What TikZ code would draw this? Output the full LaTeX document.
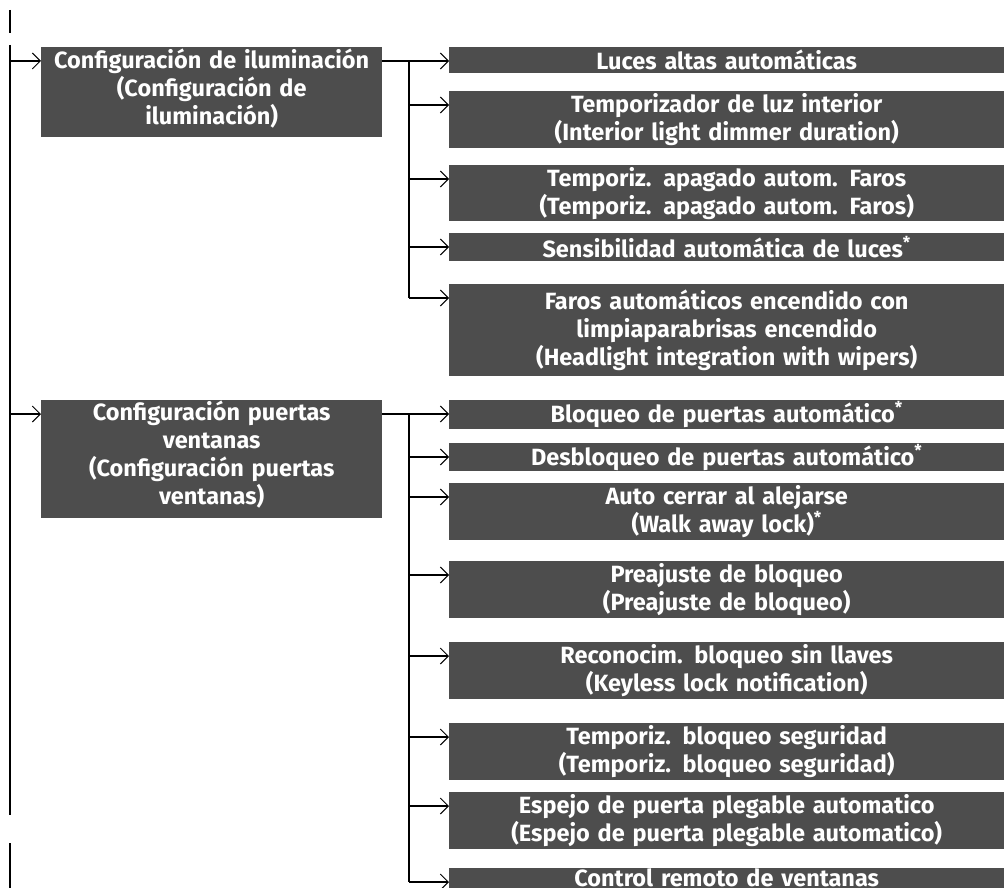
\documentclass[tikz,border=0pt]{standalone}
\usepackage{fontspec}
\setmainfont{Fira Sans}
\usetikzlibrary{arrows.meta}
\definecolor{boxgray}{RGB}{77,77,77}
\begin{document}
\begin{tikzpicture}[x=1pt,y=-1pt,
  lbox/.style={fill=boxgray,text=white,inner sep=0pt,anchor=north west,align=center,
    font=\fontsize{23.5}{28}\selectfont\bfseries},
  topbox/.style={lbox,text width=341pt,minimum width=341pt},
  subbox/.style={lbox,text width=555pt,minimum width=555pt},
  wire/.style={line width=2pt},
  arr/.style={line width=2pt,-{Straight Barb[length=8pt,width=16pt,line width=1pt]}}
]
\useasboundingbox (0,0) rectangle (1004,888);

% level 1
\node[topbox,minimum height=90pt] (cfgA) at (41,47)
  {Configuración de iluminación\\(Configuración de\\iluminación)\par\vspace{7pt}};
\node[topbox,minimum height=118pt] (cfgB) at (41,400)
  {Configuración puertas\\ventanas\\(Configuración puertas\\ventanas)\par\vspace{10pt}};

% group 1 children
\node[subbox,minimum height=26pt] (c1) at (449,47) {Luces altas automáticas};
\node[subbox,minimum height=57pt] (c2) at (449,91) {Temporizador de luz interior\\(Interior light dimmer duration)};
\node[subbox,minimum height=56pt] (c3) at (449,165) {Temporiz. apagado autom. Faros\\(Temporiz. apagado autom. Faros)};
\node[subbox,minimum height=28pt] (c4) at (449,233) {Sensibilidad automática de luces\textsuperscript{*}};
\node[subbox,minimum height=92pt] (c5) at (449,284) {Faros automáticos encendido con\\limpiaparabrisas encendido\\(Headlight integration with wipers)};

% group 2 children
\node[subbox,minimum height=29pt] (d1) at (449,400) {Bloqueo de puertas automático\textsuperscript{*}};
\node[subbox,minimum height=28pt] (d2) at (449,443) {Desbloqueo de puertas automático\textsuperscript{*}};
\node[subbox,minimum height=57pt] (d3) at (449,483) {Auto cerrar al alejarse\\(Walk away lock)\textsuperscript{*}};
\node[subbox,minimum height=57pt] (d4) at (449,561) {Preajuste de bloqueo\\(Preajuste de bloqueo)};
\node[subbox,minimum height=57pt] (d5) at (449,642) {Reconocim. bloqueo sin llaves\\(Keyless lock notification)};
\node[subbox,minimum height=57pt] (d6) at (449,723) {Temporiz. bloqueo seguridad\\(Temporiz. bloqueo seguridad)};
\node[subbox,minimum height=57pt] (d7) at (449,792) {Espejo de puerta plegable automatico\\(Espejo de puerta plegable automatico)};
\node[subbox,text height=18pt,text depth=40pt] (d8) at (449,868) {Control remoto de ventanas};

\foreach \n in {cfgA,cfgB,c1,c2,c3,c4,c5,d1,d2,d3,d4,d5,d6,d7,d8}
  \coordinate (\n-in) at ([yshift=-14pt]\n.north west);

% trunk
\coordinate (stubA) at (10,10);
\coordinate (stubB) at (10,33);
\coordinate (trA) at (10,45);
\coordinate (trB) at (10,815);
\coordinate (stubC) at (10,843);
\coordinate (stubD) at (10,892);
\draw[wire] (stubA) -- (stubB);
\draw[wire] (trA) -- (trB);
\draw[wire] (stubC) -- (stubD);
\draw[arr] (trA |- cfgA-in) -- (cfgA-in);
\draw[arr] (trA |- cfgB-in) -- (cfgB-in);

% group 1 bus
\coordinate (busA) at (409,0);
\draw[arr] (cfgA-in -| cfgA.east) -- (c1-in);
\draw[wire] (busA |- c1-in) -- (busA |- c5-in);
\foreach \n in {c2,c3,c4,c5}
  \draw[arr] (busA |- \n-in) -- (\n-in);

% group 2 bus
\draw[arr] (cfgB-in -| cfgB.east) -- (d1-in);
\draw[wire] (busA |- d1-in) -- (busA |- d8-in);
\foreach \n in {d2,d3,d4,d5,d6,d7,d8}
  \draw[arr] (busA |- \n-in) -- (\n-in);
\end{tikzpicture}
\end{document}
